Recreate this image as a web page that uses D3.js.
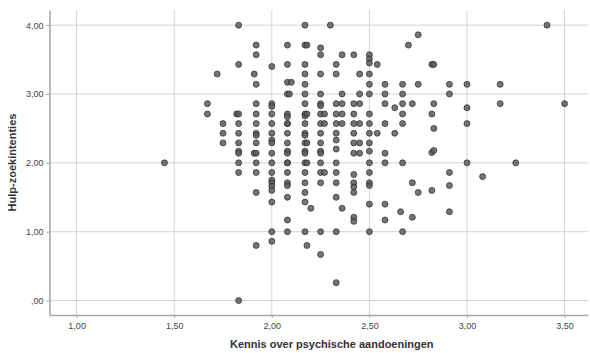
<!DOCTYPE html>
<html>
<head>
<meta charset="utf-8">
<script src="https://cdn.jsdelivr.net/npm/d3@7"></script>
<style>
  body { margin: 0; background: #fff; }
  svg { display: block; font-family: "Liberation Sans", Arial, sans-serif; }
</style>
</head>
<body>
<svg id="chart" width="590" height="353"></svg>
<script>
// kennis (x) waarden per kolom, met de bijbehorende hulp-zoekintenties (y)
var kennis = [1.45, 1.67, 1.72, 1.75, 1.82, 1.83, 1.91, 1.92, 2.00, 2.08, 2.09, 2.10,
  2.17, 2.18, 2.20, 2.25, 2.27, 2.30, 2.33, 2.36, 2.42, 2.45, 2.50, 2.54, 2.58,
  2.63, 2.66, 2.67, 2.70, 2.72, 2.75, 2.82, 2.83, 2.91, 3.00, 3.08, 3.17, 3.25, 3.41, 3.50];

var hulp = [
  [2.00],
  [2.86, 2.71],
  [3.29],
  [2.57, 2.43, 2.29],
  [2.71],
  [4.00, 3.43, 2.71, 2.57, 2.43, 2.29, 2.17, 2.14, 2.00, 1.86, 0.00],
  [3.29, 2.14],
  [3.71, 3.57, 3.14, 2.86, 2.71, 2.57, 2.43, 2.40, 2.29, 2.14, 2.00, 1.86, 1.57, 0.80],
  [3.40, 2.86, 2.82, 2.71, 2.57, 2.43, 2.33, 2.29, 2.14, 2.00, 1.86, 1.75, 1.71, 1.66, 1.60, 1.43, 1.00, 0.86],
  [3.71, 3.43, 3.17, 3.00, 2.71, 2.67, 2.57, 2.57, 2.43, 2.29, 2.17, 2.14, 2.00, 2.00, 1.86, 1.71, 1.67, 1.50, 1.17, 1.00],
  [3.00],
  [3.17],
  [4.00, 3.71, 3.43, 3.29, 3.14, 3.00, 2.86, 2.71, 2.68, 2.57, 2.43, 2.40, 2.29, 2.17, 2.14, 2.00, 1.86, 1.71, 1.57, 1.43, 1.00],
  [3.71, 2.71, 2.29, 2.00, 0.80],
  [1.34],
  [3.67, 3.57, 3.29, 3.00, 2.86, 2.83, 2.71, 2.57, 2.43, 2.29, 2.17, 2.14, 2.00, 1.86, 1.71, 1.00, 0.67],
  [2.71, 2.57, 1.86],
  [4.00],
  [3.43, 3.29, 2.86, 2.71, 2.57, 2.43, 2.33, 2.20, 2.00, 1.86, 1.71, 1.50, 1.00, 0.26],
  [3.57, 3.00, 2.86, 2.71, 2.57, 1.34],
  [3.57, 2.86, 2.71, 2.57, 2.43, 2.29, 2.14, 1.83, 1.71, 1.65, 1.57, 1.21, 1.15],
  [3.29, 3.00, 2.86, 2.57, 2.29, 2.14],
  [3.57, 3.51, 3.45, 3.29, 3.14, 3.00, 2.71, 2.57, 2.43, 2.29, 2.17, 2.00, 1.86, 1.71, 1.67, 1.40, 1.00],
  [3.43, 2.43],
  [3.14, 3.00, 2.86, 2.57, 2.14, 2.00, 1.40, 1.17],
  [2.80, 2.43],
  [1.29],
  [3.14, 3.00, 2.86, 2.71, 2.57, 2.00, 1.00],
  [3.71],
  [2.86, 1.71, 1.21],
  [3.86, 3.14, 1.57],
  [3.43, 2.71, 2.15, 1.60],
  [3.43, 2.86, 2.50, 2.18],
  [3.14, 3.00, 1.86, 1.67, 1.29],
  [3.14, 2.80, 2.57, 2.00],
  [1.80],
  [3.14, 2.86],
  [2.00],
  [4.00],
  [2.86]
];

var xTicks = [1.0, 1.5, 2.0, 2.5, 3.0, 3.5];
var yTicks = [0, 1, 2, 3, 4];

var points = [];
kennis.forEach(function(k, i) {
  hulp[i].forEach(function(h) { points.push({ x: k, y: h }); });
});

var margin = { left: 49.5, right: 2, top: 10, bottom: 38 };
var width = 590, height = 353;

var x = d3.scaleLinear().domain([0.861, 3.62]).range([margin.left, width - margin.right]);
var y = d3.scaleLinear().domain([-0.21, 4.22]).range([height - margin.bottom, margin.top]);

var fmt = function(v) {
  var s = d3.format(".2f")(v).replace(".", ",");
  return s.indexOf("0,") === 0 ? s.slice(1) : s;
};

var svg = d3.select("#chart");

// rasterlijnen
svg.append("g")
  .selectAll("line")
  .data(xTicks)
  .join("line")
  .attr("x1", d => x(d)).attr("x2", d => x(d))
  .attr("y1", margin.top).attr("y2", height - margin.bottom)
  .attr("stroke", "#d4d4d4").attr("stroke-width", 1);

svg.append("g")
  .selectAll("line")
  .data(yTicks)
  .join("line")
  .attr("x1", margin.left).attr("x2", width - margin.right)
  .attr("y1", d => y(d)).attr("y2", d => y(d))
  .attr("stroke", "#d4d4d4").attr("stroke-width", 1);

// assen
var xAxis = svg.append("g")
  .attr("transform", `translate(0,${height - margin.bottom})`)
  .call(d3.axisBottom(x).tickValues(xTicks).tickFormat(fmt).tickSize(3).tickSizeOuter(0));

var yAxis = svg.append("g")
  .attr("transform", `translate(${margin.left},0)`)
  .call(d3.axisLeft(y).tickValues(yTicks).tickFormat(fmt).tickSize(3).tickSizeOuter(0));

[xAxis, yAxis].forEach(function(g) {
  g.select(".domain").attr("stroke", "#a8a8a8").attr("stroke-width", 1.6);
  g.selectAll(".tick line").attr("stroke", "#a8a8a8");
  g.selectAll(".tick text").attr("fill", "#444").style("font-size", "9px");
});
xAxis.selectAll(".tick text").attr("dy", "0.9em");

// punten
svg.append("g")
  .selectAll("circle")
  .data(points)
  .join("circle")
  .attr("cx", d => x(d.x))
  .attr("cy", d => y(d.y))
  .attr("r", 3)
  .attr("fill", "#5c5c5c")
  .attr("fill-opacity", 0.85)
  .attr("stroke", "#2a2a2a")
  .attr("stroke-width", 0.7);

// astitels
svg.append("text")
  .attr("x", (margin.left + width) / 2 + 12)
  .attr("y", 348)
  .attr("text-anchor", "middle")
  .attr("fill", "#333")
  .style("font-size", "11px")
  .style("font-weight", "bold")
  .text("Kennis over psychische aandoeningen");

svg.append("text")
  .attr("transform", `translate(16,${(margin.top + height - margin.bottom) / 2}) rotate(-90)`)
  .attr("text-anchor", "middle")
  .attr("fill", "#333")
  .style("font-size", "11px")
  .style("font-weight", "bold")
  .text("Hulp-zoekintenties");
</script>
</body>
</html>
